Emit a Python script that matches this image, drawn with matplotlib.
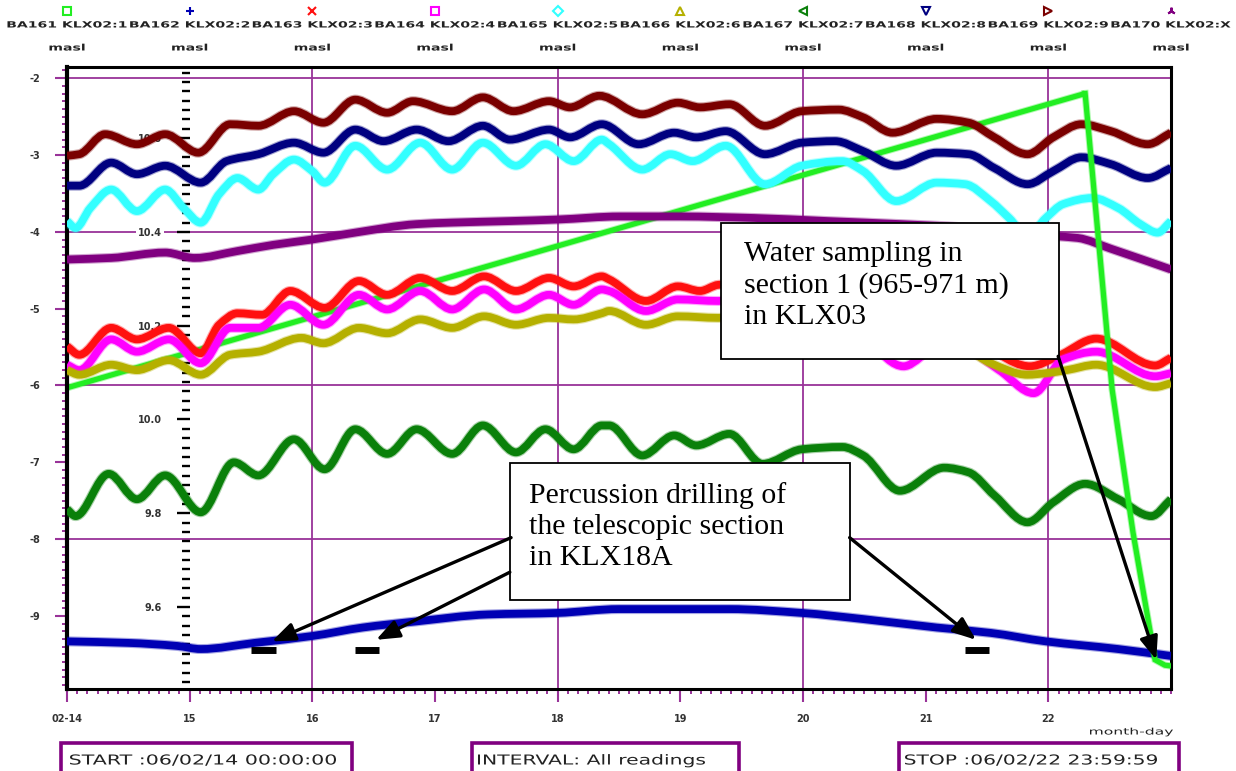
import numpy as np
import matplotlib
matplotlib.use("Agg")
import matplotlib.pyplot as plt
import matplotlib.patheffects as pe
from matplotlib.ticker import MultipleLocator, FixedLocator, FormatStrFormatter
from matplotlib.textpath import TextPath
from matplotlib.patches import PathPatch, Rectangle
from matplotlib.path import Path
from matplotlib.font_manager import FontProperties
from matplotlib.transforms import Affine2D, blended_transform_factory

plt.rcParams["axes.unicode_minus"] = False

W, H = 1236, 771

# channels of the logger, levels in masl, time in days of Feb 2006
channels = ["BA161 KLX02:1", "BA162 KLX02:2", "BA163 KLX02:3", "BA164 KLX02:4",
            "BA165 KLX02:5", "BA166 KLX02:6", "BA167 KLX02:7", "BA168 KLX02:8",
            "BA169 KLX02:9", "BA170 KLX02:X"]
colors = ["#22ee22", "#0000b4", "#ff1010", "#ff00ff", "#33ffff",
          "#b5b000", "#0a800a", "#000080", "#7a0000", "#800080"]
markers = ["s", "+", "x", "s", "D", "^", "<", "v", ">", (3, 2, 0)]
day_labels = ["02-14", "15", "16", "17", "18", "19", "20", "21", "22"]

t_161 = [14.0, 22.30, 22.52, 22.69, 22.87, 22.95, 23.0]
h_161 = [-6.03, -2.20, -6.05, -7.91, -9.57, -9.64, -9.65]

t_162 = [14.0, 14.5, 14.9, 15.09, 15.53, 16.0, 16.41, 16.85, 17.43, 18.0, 18.5,
         19.4, 19.99, 20.49, 21.09, 21.53, 21.98, 22.57, 23.0]
h_162 = [-9.33, -9.35, -9.39, -9.43, -9.35, -9.26, -9.15, -9.07, -8.98, -8.96, -8.91,
         -8.91, -8.96, -9.04, -9.15, -9.22, -9.33, -9.43, -9.52]

t_163 = [14.0, 14.10, 14.36, 14.57, 14.83, 15.09, 15.24, 15.39, 15.59, 15.82, 16.10,
         16.38, 16.61, 16.88, 17.14, 17.40, 17.66, 17.93, 18.13, 18.36, 18.42, 18.72,
         18.98, 19.16, 19.31, 19.45, 19.7, 20.0, 20.3, 20.78, 21.1, 21.35, 21.85,
         22.09, 22.39, 22.87, 23.0]
h_163 = [-5.49, -5.60, -5.25, -5.40, -5.25, -5.58, -5.21, -5.06, -5.08, -4.77, -4.99,
         -4.64, -4.82, -4.60, -4.77, -4.58, -4.77, -4.60, -4.71, -4.58, -4.62, -4.90,
         -4.71, -4.77, -4.69, -4.68, -4.98, -4.85, -4.85, -5.50, -5.30, -5.38, -5.75,
         -5.61, -5.39, -5.74, -5.64]

t_164 = [14.0, 14.10, 14.36, 14.57, 14.83, 15.09, 15.33, 15.56, 15.82, 16.09, 16.38,
         16.61, 16.88, 17.14, 17.40, 17.66, 17.93, 18.13, 18.36, 18.42, 18.72, 18.98,
         19.31, 19.45, 19.7, 20.0, 20.3, 20.82, 21.1, 21.35, 21.6, 21.88, 22.12,
         22.39, 22.87, 23.0]
h_164 = [-5.73, -5.80, -5.40, -5.56, -5.40, -5.71, -5.25, -5.25, -4.95, -5.21, -4.82,
         -5.01, -4.77, -5.01, -4.75, -5.01, -4.82, -4.95, -4.75, -4.77, -5.03, -4.88,
         -4.90, -4.88, -5.20, -5.05, -5.10, -5.75, -5.50, -5.55, -5.80, -6.10, -5.66,
         -5.56, -5.88, -5.84]

t_165 = [14.0, 14.07, 14.19, 14.36, 14.57, 14.80, 14.95, 15.09, 15.24, 15.39, 15.56,
         15.68, 15.85, 16.0, 16.10, 16.35, 16.61, 16.88, 17.14, 17.39, 17.66, 17.90,
         18.13, 18.36, 18.42, 18.69, 18.92, 19.10, 19.37, 19.69, 19.99, 20.32, 20.49,
         20.76, 21.09, 21.32, 21.53, 21.68, 21.83, 21.98, 22.12, 22.36, 22.57, 22.75,
         22.89, 23.0]
h_165 = [-3.86, -3.95, -3.69, -3.45, -3.73, -3.45, -3.69, -3.88, -3.51, -3.30, -3.45,
         -3.25, -3.06, -3.21, -3.36, -2.88, -3.19, -2.84, -3.19, -2.84, -3.14, -2.86,
         -3.08, -2.80, -2.86, -3.19, -2.99, -3.08, -2.88, -3.38, -3.14, -3.08, -3.21,
         -3.60, -3.36, -3.38, -3.60, -3.82, -4.05, -3.82, -3.64, -3.56, -3.69, -3.90,
         -4.01, -3.86]

t_166 = [14.0, 14.10, 14.36, 14.57, 14.83, 15.09, 15.33, 15.56, 15.91, 16.09, 16.38,
         16.61, 16.88, 17.14, 17.40, 17.66, 17.93, 18.13, 18.36, 18.42, 18.72, 18.98,
         19.31, 19.45, 19.7, 20.0, 20.3, 20.8, 21.1, 21.35, 21.53, 21.83, 21.98,
         22.15, 22.39, 22.87, 23.0]
h_166 = [-5.80, -5.86, -5.73, -5.80, -5.67, -5.86, -5.60, -5.56, -5.38, -5.45, -5.25,
         -5.32, -5.14, -5.25, -5.10, -5.21, -5.12, -5.14, -5.06, -5.03, -5.21, -5.10,
         -5.12, -5.10, -5.30, -5.22, -5.25, -5.55, -5.45, -5.55, -5.71, -5.86, -5.84,
         -5.80, -5.73, -6.02, -5.97]

t_167 = [14.0, 14.07, 14.34, 14.57, 14.80, 15.09, 15.36, 15.56, 15.85, 16.10, 16.35,
         16.61, 16.85, 17.14, 17.39, 17.66, 17.90, 18.13, 18.36, 18.42, 18.69, 18.95,
         19.13, 19.40, 19.67, 19.99, 20.32, 20.49, 20.79, 21.15, 21.35, 21.56, 21.83,
         22.04, 22.30, 22.57, 22.84, 23.0]
h_167 = [-7.61, -7.70, -7.15, -7.48, -7.17, -7.65, -7.00, -7.17, -6.70, -7.09, -6.57,
         -6.89, -6.57, -6.89, -6.52, -6.87, -6.57, -6.83, -6.52, -6.52, -6.91, -6.65,
         -6.78, -6.63, -7.02, -6.83, -6.80, -6.91, -7.37, -7.07, -7.13, -7.43, -7.78,
         -7.52, -7.28, -7.48, -7.70, -7.48]

t_168 = [14.0, 14.10, 14.36, 14.57, 14.80, 15.09, 15.30, 15.56, 15.85, 16.09, 16.35,
         16.58, 16.85, 17.11, 17.39, 17.61, 17.93, 18.10, 18.36, 18.66, 18.95, 19.13,
         19.37, 19.69, 19.99, 20.26, 20.49, 20.76, 21.09, 21.35, 21.56, 21.83, 22.04,
         22.27, 22.51, 22.81, 23.0]
h_168 = [-3.40, -3.40, -3.10, -3.25, -3.14, -3.36, -3.08, -2.99, -2.84, -2.97, -2.67,
         -2.82, -2.67, -2.82, -2.62, -2.80, -2.67, -2.77, -2.60, -2.86, -2.71, -2.77,
         -2.69, -2.99, -2.84, -2.82, -2.95, -3.14, -2.97, -2.99, -3.17, -3.38, -3.21,
         -3.03, -3.12, -3.30, -3.17]

t_169 = [14.0, 14.10, 14.31, 14.57, 14.80, 15.07, 15.33, 15.56, 15.85, 16.09, 16.35,
         16.61, 16.82, 17.14, 17.39, 17.64, 17.93, 18.10, 18.34, 18.69, 18.98, 19.16,
         19.40, 19.69, 19.99, 20.29, 20.49, 20.73, 21.09, 21.35, 21.56, 21.83, 22.04,
         22.27, 22.51, 22.81, 23.0]
h_169 = [-3.01, -2.99, -2.73, -2.86, -2.73, -2.97, -2.60, -2.62, -2.43, -2.58, -2.28,
         -2.45, -2.30, -2.43, -2.25, -2.43, -2.30, -2.38, -2.23, -2.47, -2.32, -2.38,
         -2.34, -2.62, -2.43, -2.41, -2.51, -2.71, -2.53, -2.58, -2.77, -2.99, -2.77,
         -2.60, -2.69, -2.86, -2.71]

t_170 = [14.0, 14.36, 14.80, 15.04, 15.39, 15.68, 16.0, 16.35, 16.85, 17.14, 17.61,
         18.0, 18.51, 19.0, 19.6, 20.2, 20.8, 21.4, 21.9, 22.09, 22.24, 22.51, 23.0]
h_170 = [-4.36, -4.34, -4.27, -4.34, -4.25, -4.17, -4.10, -4.01, -3.90, -3.88, -3.86,
         -3.84, -3.80, -3.80, -3.82, -3.86, -3.90, -3.95, -4.02, -4.06, -4.08, -4.22,
         -4.49]

series = [(t_161, h_161), (t_162, h_162), (t_163, h_163), (t_164, h_164), (t_165, h_165),
          (t_166, h_166), (t_167, h_167), (t_168, h_168), (t_169, h_169), (t_170, h_170)]

# percussion drilling periods in KLX18A
drill_start = [15.50, 16.35, 21.32]
drill_end = [15.70, 16.54, 21.52]
drill_level = [-9.44, -9.44, -9.44]

sec_ticks = [9.6, 9.8, 10.0, 10.2, 10.4, 10.6]
grid_days = [16, 18, 20, 22]
grid_levels = [-2, -4, -6, -8]

purple = "#993399"


def smooth_path(t, h):
    # monotone cubic (pchip-like) bezier through the read points
    x = np.asarray(t, float)
    y = np.asarray(h, float)
    dx = np.diff(x)
    d = np.diff(y) / dx
    m = np.zeros_like(y)
    m[0], m[-1] = d[0], d[-1]
    for i in range(1, len(y) - 1):
        if d[i - 1] * d[i] > 0:
            w1 = 2 * dx[i] + dx[i - 1]
            w2 = dx[i] + 2 * dx[i - 1]
            m[i] = (w1 + w2) / (w1 / d[i - 1] + w2 / d[i])
    verts = [(x[0], y[0])]
    codes = [Path.MOVETO]
    for i in range(len(dx)):
        verts += [(x[i] + dx[i] / 3, y[i] + m[i] * dx[i] / 3),
                  (x[i + 1] - dx[i] / 3, y[i + 1] - m[i + 1] * dx[i] / 3),
                  (x[i + 1], y[i + 1])]
        codes += [Path.CURVE4] * 3
    return Path(verts, codes)


fig = plt.figure(figsize=(W / 100, H / 100), dpi=100)
L, R, T, B = 67, 1171, 67, 689
pos = [L / W, 1 - B / H, (R - L) / W, (B - T) / H]
ax2 = fig.add_axes(pos, zorder=0)
ax = fig.add_axes(pos, zorder=1)
ax.patch.set_visible(False)

ax.set_xlim(14, 23)
ax.set_ylim(-9.95, -1.855)
ax2.set_xlim(14, 23)
ax2.set_ylim(9.425, 10.752)

# secondary scale drawn as dashed axis at day 15
for s in ax2.spines.values():
    s.set_visible(False)
ax2.spines["left"].set_position(("data", 15))
ax2.set_xticks([])
ax2.yaxis.set_major_locator(FixedLocator(sec_ticks))
ax2.yaxis.set_minor_locator(MultipleLocator(0.02))
ax2.yaxis.set_major_formatter(FormatStrFormatter("%.1f"))
ax2.tick_params(axis="y", which="major", direction="out", length=9.5, width=1.7,
                color="black", labelsize=7, pad=10.5, labelcolor="#333333")
ax2.tick_params(axis="y", which="minor", direction="out", length=5.8, width=1.7, color="black")
for lab in ax2.get_yticklabels():
    lab.set_fontweight("bold")
    lab.set_bbox(dict(fc="white", ec="none", pad=1.5))
for d in grid_days:
    ax2.axvline(d, color=purple, lw=1.3, zorder=0.5)
bt = blended_transform_factory(ax2.transAxes, ax.transData)
for g in grid_levels:
    ax2.plot([0, 1], [g, g], transform=bt, color=purple, lw=1.3, zorder=0.5)

# main axis
ax.spines["left"].set_linewidth(3)
for side in ["top", "right", "bottom"]:
    ax.spines[side].set_linewidth(2.2)
ax.xaxis.set_major_locator(FixedLocator(range(14, 23)))
ax.xaxis.set_minor_locator(MultipleLocator(1 / 12))
ax.set_xticklabels(day_labels)
ax.yaxis.set_major_locator(MultipleLocator(1))
ax.yaxis.set_minor_locator(MultipleLocator(0.1))
ax.yaxis.set_major_formatter(FormatStrFormatter("%d"))
ax.tick_params(which="major", direction="out", color=purple, width=1.5, labelsize=7,
               labelcolor="#333333")
ax.tick_params(axis="x", which="major", length=9.4, pad=8.5)
ax.tick_params(axis="y", which="major", length=8.6, pad=10.5)
ax.tick_params(which="minor", direction="out", color=purple, width=1.4, length=3.6)
for lab in ax.get_xticklabels() + ax.get_yticklabels():
    lab.set_fontweight("bold")

for i in range(1, 10):
    t, h = series[i]
    ax.add_patch(PathPatch(smooth_path(t, h), facecolor="none", edgecolor=colors[i],
                           lw=5.6, capstyle="butt", joinstyle="round", zorder=3,
                           path_effects=[pe.Stroke(linewidth=7.2, foreground=colors[i], alpha=0.35),
                                         pe.Normal()]))

# BA161: slow rise drawn under the others, fast drawdown on top
lime_fx = [pe.Stroke(linewidth=5.2, foreground=colors[0], alpha=0.35), pe.Normal()]
ax.plot(t_161[:2], h_161[:2], color=colors[0], lw=3.8, solid_capstyle="butt",
        zorder=2.5, path_effects=lime_fx)
ax.plot(t_161[1:], h_161[1:], color=colors[0], lw=3.8, solid_joinstyle="miter",
        zorder=5, path_effects=lime_fx)

ax.hlines(drill_level, drill_start, drill_end, color="black", lw=5, zorder=6)

# annotations
ax.add_patch(Rectangle((19.33, -5.65), 22.09 - 19.33, 1.77, facecolor="white",
                       edgecolor="black", lw=1.3, zorder=7))
ax.text(19.52, -4.12, "Water sampling in\nsection 1 (965-971 m)\nin KLX03",
        family="Liberation Serif", fontsize=21.5, va="top", linespacing=1.24, zorder=8)
ax.add_patch(Rectangle((17.61, -8.79), 20.38 - 17.61, 1.78, facecolor="white",
                       edgecolor="black", lw=1.3, zorder=7))
ax.text(17.77, -7.26, "Percussion drilling of\nthe telescopic section\nin KLX18A",
        family="Liberation Serif", fontsize=21.5, va="top", linespacing=1.24, zorder=8)

arrow = dict(arrowstyle="-|>,head_length=1.4,head_width=0.55", color="black", lw=2.4,
             shrinkA=0, shrinkB=0)
ax.annotate("", xy=(15.67, -9.33), xytext=(17.62, -7.98), arrowprops=arrow, zorder=9)
ax.annotate("", xy=(16.52, -9.31), xytext=(17.61, -8.43), arrowprops=arrow, zorder=9)
ax.annotate("", xy=(21.41, -9.31), xytext=(20.38, -7.98), arrowprops=arrow, zorder=9)
ax.annotate("", xy=(22.88, -9.57), xytext=(22.08, -5.62), arrowprops=arrow, zorder=9)


def wide_text(s, x, base, size, width, ha="left", color="#222222", weight="bold"):
    path = TextPath((0, 0), s, size=size, prop=FontProperties(family="DejaVu Sans", weight=weight))
    ext = path.get_extents()
    x0 = x - width / 2 if ha == "center" else x
    tr = Affine2D().translate(-ext.x0, 0).scale(width / ext.width, 1).translate(x0, H - base)
    fig.add_artist(PathPatch(path, transform=tr, facecolor=color, edgecolor="none", lw=0))


# channel header above the chart
hdr = blended_transform_factory(ax.transData, fig.transFigure)
for k, name in enumerate(channels):
    d = 14 + k
    ax.plot([d], [1 - 11 / H], transform=hdr, marker=markers[k], ms=5.5, mfc="none",
            mec=colors[k], mew=1.5, clip_on=False, ls="none")
    px = ax.transData.transform((d, -5))[0]
    wide_text(name, px, 27.5, 8.6, 119, ha="center")
    wide_text("masl", px, 50.5, 9.0, 35, ha="center")

wide_text("month-day", 1090, 734.5, 9.0, 83, weight="normal")

# info boxes under the chart
for x0, x1, tx, tw, s in [(61, 352, 70, 266, "START :06/02/14 00:00:00"),
                          (472, 739, 478, 227, "INTERVAL: All readings"),
                          (899, 1179, 905, 252, "STOP :06/02/22 23:59:59")]:
    fig.add_artist(Rectangle((x0, -20), x1 - x0, H - 743 + 20, transform=Affine2D(),
                             facecolor="white", edgecolor="#800080", lw=2.6))
    wide_text(s, tx, 764.5, 13.7, tw, weight="normal")

ax.set_xlim(14, 23)
ax.set_ylim(-9.95, -1.855)
fig.savefig("out.png", dpi=100)
